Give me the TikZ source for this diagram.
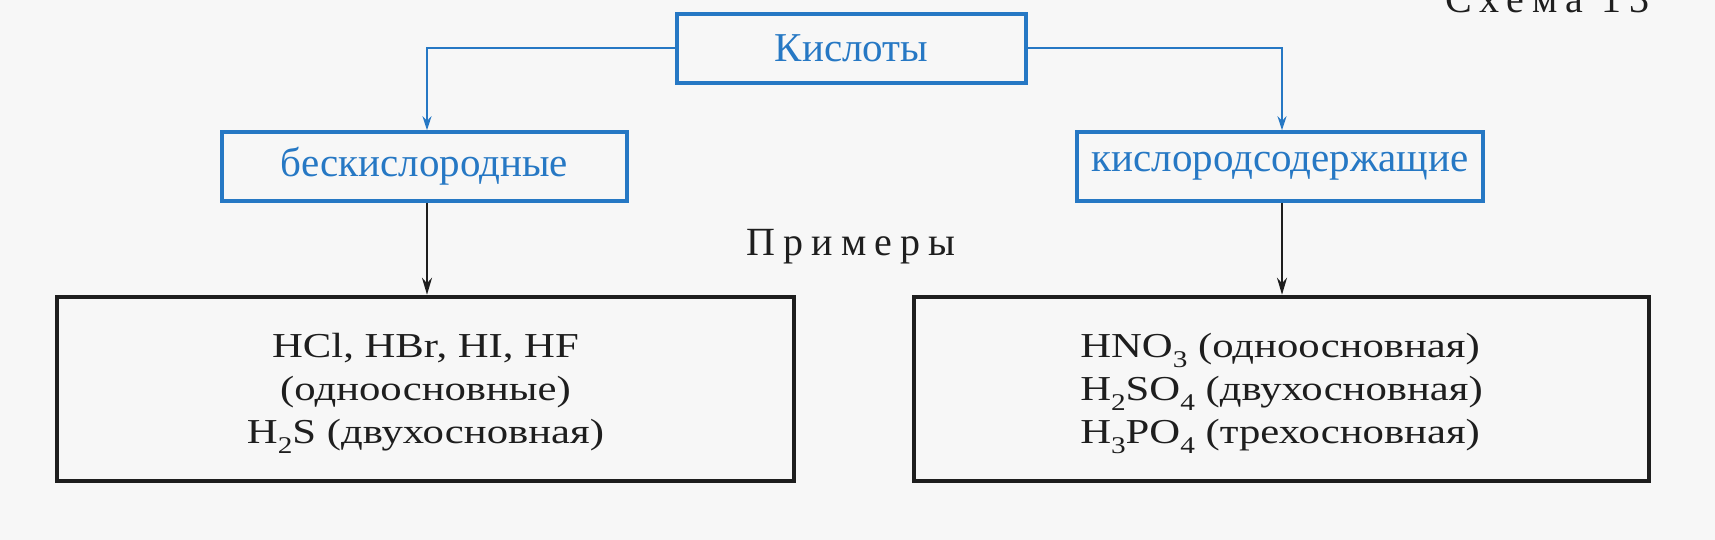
\documentclass[tikz,border=0pt]{standalone}
\usepackage{fontspec}
\setmainfont{Liberation Serif}
\newfontfamily\spaced[LetterSpace=20]{Liberation Serif}
\newfontfamily\widefont[FakeStretch=1.22]{Liberation Serif}
\usetikzlibrary{arrows.meta}
\definecolor{acidblue}{RGB}{38,120,196}
\definecolor{paper}{RGB}{247,247,247}
\definecolor{ink}{RGB}{30,30,30}
\newcommand{\sbs}[1]{\raisebox{-0.28em}{\fontsize{24}{24}\selectfont #1}}
\tikzset{
  bluebox/.style={draw=acidblue, line width=3.5pt, text=acidblue, rectangle, inner sep=0pt,
    font=\fontsize{41}{48}\selectfont},
  blackbox/.style={draw=ink, line width=4.5pt, rectangle, inner sep=0pt},
  blacktext/.style={text=ink, inner sep=0pt, font=\fontsize{35}{43}\widefont\selectfont},
  blueconn/.style={draw=acidblue, line width=2pt, -{Stealth[length=14pt,width=9pt]}},
  blackconn/.style={draw=ink, line width=2.2pt, -{Stealth[length=17pt,width=10pt]}},
  headtext/.style={text=ink, inner sep=0pt, font=\fontsize{40}{48}\spaced\selectfont}
}
\begin{document}
\begin{tikzpicture}[x=1pt,y=-1pt]
\useasboundingbox (0,0) rectangle (1715,540);
\clip (0,0) rectangle (1715,540);
\fill[paper] (0,0) rectangle (1715,540);

\node[headtext, anchor=base west] (scheme) at (1445,13) {Схема 13};

\node[bluebox, minimum width=349pt, minimum height=69pt] (acids) at (851.5,48.5) {Кислоты};
\node[bluebox, minimum width=405pt, minimum height=69pt] (oxyfree) at (424.5,166.5) {бескислородные};
\node[bluebox, minimum width=406pt, minimum height=69pt] (oxy) at (1280,166.5) {кислородсодержащие};

\node[headtext, anchor=base] (examples) at (851,255) {Примеры};

\node[blackbox, minimum width=737pt, minimum height=184pt] (exfree) at (425.5,389) {};
\node[blackbox, minimum width=735pt, minimum height=184pt] (exoxy) at (1281.5,389) {};
\node[blacktext, align=center] (exfreetext) at ([yshift=-4.5pt]exfree.center)
  {HCl, HBr, HI, HF\\(одноосновные)\\H\sbs{2}S (двухосновная)};
\node[blacktext, align=left] (exoxytext) at ([yshift=-4.5pt]exoxy.center)
  {HNO\sbs{3} (одноосновная)\\H\sbs{2}SO\sbs{4} (двухосновная)\\H\sbs{3}PO\sbs{4} (трехосновная)};

\draw[blueconn] (acids.west) -| ([xshift=2.5pt]oxyfree.north);
\draw[blueconn] (acids.east) -| ([xshift=2pt]oxy.north);
\draw[blackconn] ([xshift=2.5pt]oxyfree.south) -- ([xshift=1.5pt]exfree.north);
\draw[blackconn] ([xshift=2pt]oxy.south) -- ([xshift=0.5pt]exoxy.north);
\end{tikzpicture}
\end{document}
